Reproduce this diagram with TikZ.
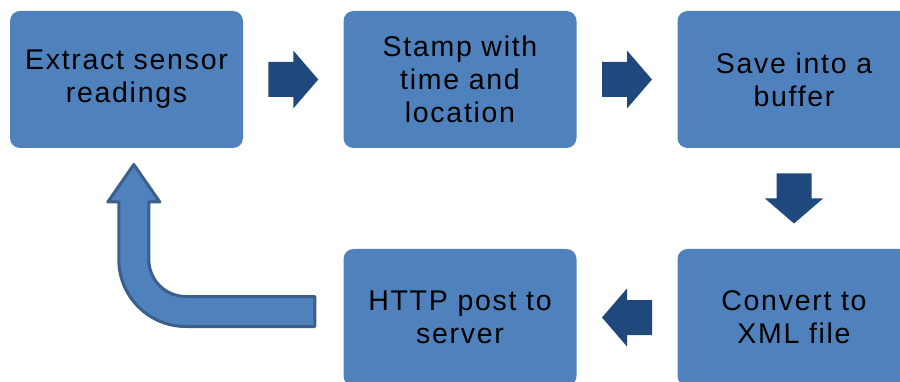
\documentclass[tikz,border=0pt]{standalone}
\usepackage{fontspec}
\setmainfont{Liberation Sans}[LetterSpace=6]
\usetikzlibrary{calc}

\definecolor{boxblue}{HTML}{4F81BD}
\definecolor{arrowblue}{HTML}{1F497D}
\definecolor{edgeblue}{HTML}{3A5F8B}

\tikzset{
  stepbox/.style={fill=boxblue, draw=none, rounded corners=10pt,
    minimum width=233pt, minimum height=137pt, inner sep=0pt,
    align=center, text=black,
    font=\fontsize{28.5pt}{33pt}\selectfont},
  blockarrow/.pic={
    \fill[arrowblue] (-25,-17.5) -- (0,-17.5) -- (0,-29) -- (25,0)
      -- (0,29) -- (0,17.5) -- (-25,17.5) -- cycle;
  },
  returnarrow/.style={fill=boxblue, draw=edgeblue, line width=3pt,
    line join=round}
}

\begin{document}
\begin{tikzpicture}[x=1pt, y=-1pt]
  \useasboundingbox (0,0) rectangle (900,382);
  \clip (0,0) rectangle (900,382);

  % process steps
  \node[stepbox] (b1) at (126.5,79.5) {Extract sensor\\readings};
  \node[stepbox] (b2) at (460,79.5)   {Stamp with\\time and\\location};
  \node[stepbox] (b3) at (794,79.5)   {Save into a\\buffer};
  \node[stepbox] (b4) at (460,317.5)  {HTTP post to\\server};
  \node[stepbox] (b5) at (794,317.5)  {Convert to\\XML file};

  % block arrows between consecutive steps
  \path ($(b1.east)!0.5!(b2.west)$) pic {blockarrow};
  \path ($(b2.east)!0.5!(b3.west)$) pic {blockarrow};
  \path ($(b3.south)!0.5!(b5.north)$) pic[rotate=-90] {blockarrow};
  \path ($(b5.west)!0.5!(b4.east)$) pic[rotate=180] {blockarrow};

  % bent arrow returning to the first step
  \path[returnarrow] ($(b4.west)+(-28.5,9)$)
    -- ++(-129,0)
    .. controls +(-37,0) and +(0,37) .. ++(-67,-67)
    -- ++(0,-57.5)
    -- ++(-11,0)
    -- ++(26,-37.5)
    -- ++(26,37.5)
    -- ++(-11,0)
    -- ++(0,57.5)
    .. controls +(0,20.4) and +(-20.4,0) .. ++(37,37)
    -- ++(129,0)
    -- cycle;
\end{tikzpicture}
\end{document}
